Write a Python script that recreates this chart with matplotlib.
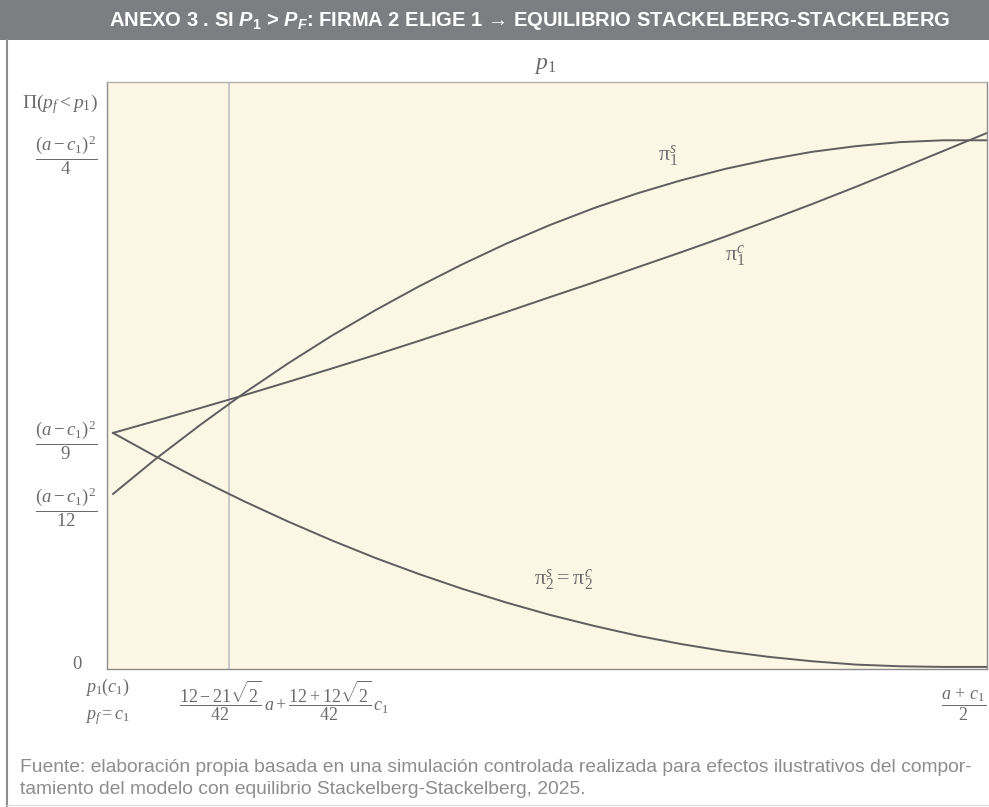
import numpy as np
import matplotlib
matplotlib.use("Agg")
import matplotlib.pyplot as plt
import matplotlib.transforms as mtransforms
from matplotlib.patches import Rectangle
from matplotlib.lines import Line2D

plt.rcParams['mathtext.fontset'] = 'custom'
plt.rcParams['mathtext.rm'] = 'Liberation Serif'
plt.rcParams['mathtext.it'] = 'Liberation Serif:italic'
plt.rcParams['mathtext.bf'] = 'Liberation Sans:bold'
plt.rcParams['mathtext.bfit'] = 'Liberation Sans:italic:bold'

# p1 from p1(c1) (0) up to (a+c1)/2 (1); profits in units of (a-c1)^2
p1 = [0.0, 0.05, 0.10, 0.15, 0.20, 0.25, 0.30, 0.35, 0.40, 0.45, 0.50,
      0.55, 0.60, 0.65, 0.70, 0.75, 0.80, 0.85, 0.90, 0.95, 1.0]
pi1_s = [0.0825, 0.0996, 0.1155, 0.1306, 0.1447, 0.1579, 0.1701, 0.1815, 0.1921, 0.2019, 0.2108,
         0.2188, 0.2259, 0.2321, 0.2375, 0.2420, 0.2457, 0.2484, 0.2503, 0.2512, 0.2512]
pi1_c = [0.1116, 0.1175, 0.1235, 0.1296, 0.1359, 0.1423, 0.1488, 0.1555, 0.1624, 0.1693, 0.1764,
         0.1834, 0.1906, 0.1978, 0.2052, 0.2129, 0.2208, 0.2290, 0.2375, 0.2461, 0.2547]
pi2 = [0.1116, 0.1001, 0.0892, 0.0790, 0.0694, 0.0604, 0.0520, 0.0443, 0.0372, 0.0307, 0.0248,
       0.0196, 0.0149, 0.0109, 0.0075, 0.0048, 0.0027, 0.0011, 0.0003, 0.0000, 0.0000]
x_cross = 0.133  # (12-21*sqrt2)/42 a + (12+12*sqrt2)/42 c1

yticks = [0, 1 / 12, 1 / 9, 1 / 4]
ytick_labels = [r'$0$', r'$\dfrac{(a-c_1)^2}{12}$', r'$\dfrac{(a-c_1)^2}{9}$', r'$\dfrac{(a-c_1)^2}{4}$']
xticks = [0, x_cross, 1.0]
xtick_labels = ['$p_1(c_1)$\n$p_f = c_1$',
                r'$\dfrac{12 - 21\sqrt{2}}{42}\,a + \dfrac{12 + 12\sqrt{2}}{42}\,c_1$',
                r'$\dfrac{a\,+\,c_1}{2}$']

W, H = 989, 807
txt = '#6b6b6b'
line_c = '#5e5e5e'

fig = plt.figure(figsize=(W / 100, H / 100), dpi=100)
fig.patch.set_facecolor('white')

def off(dx, dy):
    return mtransforms.ScaledTranslation(dx / 100, dy / 100, fig.dpi_scale_trans)

# header band
fig.add_artist(Rectangle((0, 1 - 40 / H), 1, 40 / H, transform=fig.transFigure,
                         facecolor='#7d7e81', edgecolor='none'))
fig.text(530 / W, 1 - 21 / H,
         r'ANEXO 3 . SI $\mathbfit{P}_{\mathbf{1}}$ > $\mathbfit{P}_{\mathbfit{F}}$: FIRMA 2 ELIGE 1 → EQUILIBRIO STACKELBERG-STACKELBERG',
         ha='center', va='center', color='white', fontsize=14.5, fontweight='bold',
         family=['Liberation Sans', 'DejaVu Sans'])
fig.add_artist(Line2D([7 / W, 7 / W], [0, 1 - 40 / H], transform=fig.transFigure,
                      color='#8c8c8c', lw=1.5))
fig.add_artist(Line2D([7 / W, 1], [1 - 805 / H, 1 - 805 / H], transform=fig.transFigure,
                      color='#dddddd', lw=1))

ax = fig.add_axes([107 / W, 1 - 669 / H, 880 / W, 587 / H])
ax.set_facecolor('#fcf6e4')
ax.set_xlim(-0.0069, 1.0)
ax.set_ylim(-0.001, 0.279)
for s in ax.spines.values():
    s.set_color('#8c8c8c')
    s.set_linewidth(1.0)
ax.spines['top'].set_color('#b0b0b0')

ax.axvline(x_cross, color='#c9c9c9', lw=1.4, zorder=1)
ax.plot(p1, pi1_s, color=line_c, lw=1.4, zorder=3)
ax.plot(p1, pi1_c, color=line_c, lw=1.4, zorder=3)
ax.plot(p1, pi2, color=line_c, lw=1.4, zorder=3)

ax.text(0.635, 0.2437, r'$\mathrm{\pi}_1^s$', color=txt, fontsize=16, ha='center', va='center')
ax.text(0.712, 0.196, r'$\mathrm{\pi}_1^c$', color=txt, fontsize=16, ha='center', va='center')
ax.text(0.515, 0.0415, r'$\mathrm{\pi}_2^s = \mathrm{\pi}_2^c$', color=txt, fontsize=16,
        ha='center', va='center')

ax.set_xticks([])
ax.set_yticks([])

# y tick labels (x in axes, y in data)
ytr = ax.get_yaxis_transform()
ydx = [-24, -10, -10, -10]
ydy = [3, -15, -6, -13]
for v, lab, dx, dy in zip(yticks, ytick_labels, ydx, ydy):
    ax.text(0, v, lab, transform=ytr + off(dx, dy), ha='right', va='center',
            color=txt, fontsize=13.5)

# x tick labels (x in data, y in axes)
xtr = ax.get_xaxis_transform()
xdx = [-6, 55, -1]
xdy = [-33, -32, -35]
xha = ['center', 'center', 'right']
for v, lab, dx, dy, ha in zip(xticks, xtick_labels, xdx, xdy, xha):
    ax.text(v, 0, lab, transform=xtr + off(dx, dy), ha=ha, va='center',
            color=txt, fontsize=13, linespacing=1.5, multialignment='center')

fig.text(98 / W, 1 - 104 / H, r'$\Pi(p_f < p_1)$', ha='right', va='center', color=txt, fontsize=14)
fig.text(545 / W, 1 - 64 / H, r'$p_1$', ha='center', va='center', color=txt, fontsize=17)

fig.text(20 / W, 1 - 768 / H,
         'Fuente: elaboración propia basada en una simulación controlada realizada para efectos ilustrativos del compor-',
         ha='left', va='center', color='#8d8d8d', fontsize=13.85, family='Liberation Sans')
fig.text(20 / W, 1 - 789 / H,
         'tamiento del modelo con equilibrio Stackelberg-Stackelberg, 2025.',
         ha='left', va='center', color='#8d8d8d', fontsize=13.85, family='Liberation Sans')

fig.savefig('out.png', dpi=100)
